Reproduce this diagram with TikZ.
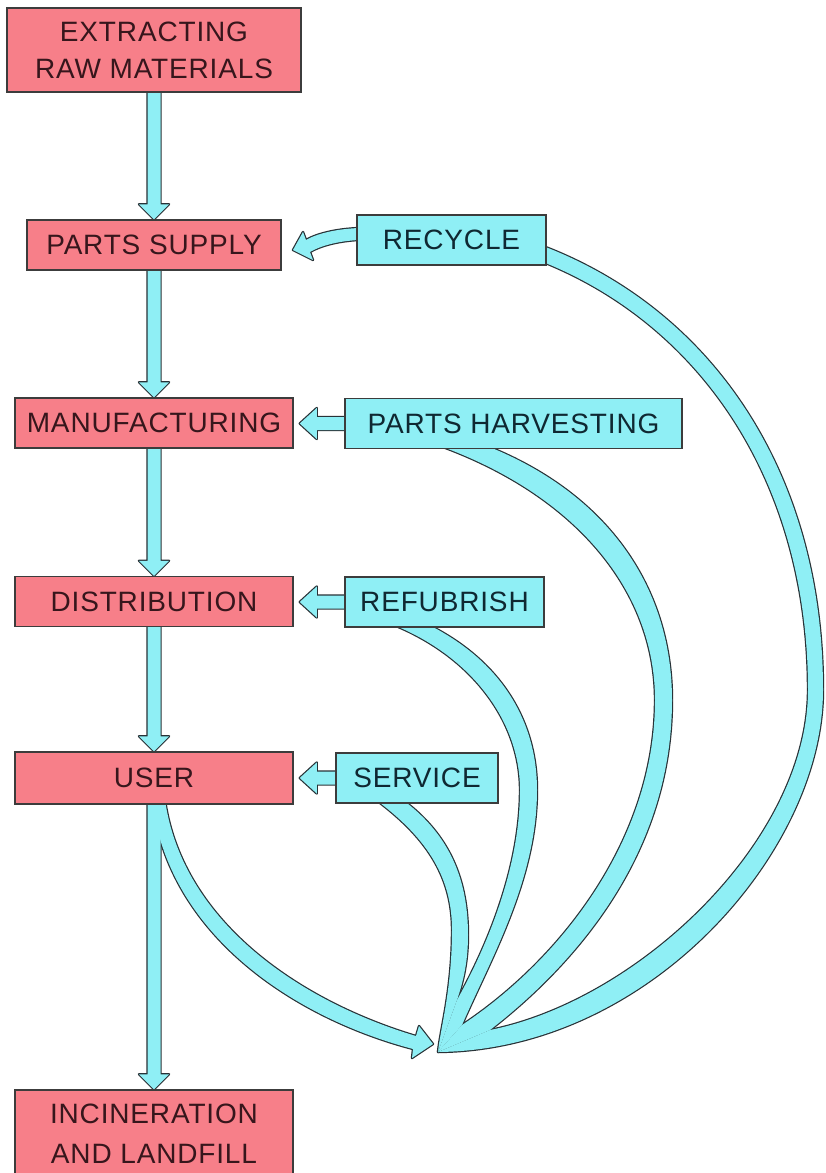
\documentclass[tikz,border=0pt]{standalone}
\usepackage{fontspec}
\newfontfamily\boxfont[LetterSpace=3]{Liberation Sans}
\usetikzlibrary{calc,backgrounds}
\definecolor{pinkc}{RGB}{247,127,137}
\definecolor{cyanc}{RGB}{143,239,245}
\definecolor{boxline}{RGB}{60,60,60}
\definecolor{flowline}{RGB}{40,50,55}
\definecolor{pinktext}{RGB}{55,22,28}
\definecolor{cyantext}{RGB}{15,40,50}
\tikzset{
  basebox/.style={draw=boxline, line width=1.5pt, inner sep=0pt, minimum height=50pt,
    align=center, font=\boxfont\fontsize{28}{37}\selectfont},
  pinkbox/.style={basebox, fill=pinkc, text=pinktext},
  cyanbox/.style={basebox, fill=cyanc, text=cyantext},
  flowstroke/.style={draw=flowline, line width=2.4pt, line join=round},
  flowfill/.style={fill=cyanc},
}
\newcommand\vflow[3]{%
  \path[#1] ($(#2.south)+(-6.5,-2)$) -- ($(#3.north)+(-6.5,-15)$) -- ($(#3.north)+(-15,-15)$)
    -- (#3.north) -- ($(#3.north)+(15,-15)$) -- ($(#3.north)+(6.5,-15)$)
    -- ($(#2.south)+(6.5,-2)$) -- cycle;}
\newcommand\hflow[3]{%
  \path[#1] ($(#2.west)+(2,-6.5)$) -- ($(#3.east |- #2.west)+(23,-6.5)$)
    -- ($(#3.east |- #2.west)+(23,-15.5)$) -- ($(#3.east |- #2.west)+(6,0)$)
    -- ($(#3.east |- #2.west)+(23,15.5)$) -- ($(#3.east |- #2.west)+(23,6.5)$)
    -- ($(#2.west)+(2,6.5)$) -- cycle;}
\newcommand\cyanshapes[1]{%
  \vflow{#1}{ext}{ps}
  \vflow{#1}{ps}{man}
  \vflow{#1}{man}{dis}
  \vflow{#1}{dis}{user}
  \vflow{#1}{user}{inc}
  \hflow{#1}{ph}{man}
  \hflow{#1}{ref}{dis}
  \hflow{#1}{ser}{user}
  % recycle -> parts supply
  \path[#1] (recS1) .. controls (335,229) and (316,234) .. (306,240) -- (303,232) -- (recT)
    -- (313,260) -- (310,252) .. controls (320,246) and (338,241) .. (recS2) -- cycle;
  % recycle band
  \path[#1] (recA) .. controls (710,310) and (823,470) .. (823,690)
    .. controls (823,850) and (650,1050) .. (conv) -- (n3)
    .. controls (640,1000) and (808,840) .. (808,690)
    .. controls (808,480) and (700,325) .. (recB) -- cycle;
  % parts harvesting band
  \path[#1] (phA) .. controls (610,495) and (672,590) .. (672,700)
    .. controls (672,850) and (580,960) .. (n3) -- (conv) -- (n2)
    .. controls (560,960) and (655,840) .. (655,700)
    .. controls (655,590) and (575,495) .. (phB) -- cycle;
  % refubrish band
  \path[#1] (refA) .. controls (500,660) and (537,720) .. (537,790)
    .. controls (537,880) and (490,960) .. (n2) -- (conv) -- (n1)
    .. controls (485,950) and (520,870) .. (520,790)
    .. controls (520,720) and (470,655) .. (refB) -- cycle;
  % service band
  \path[#1] (serA) .. controls (450,835) and (468,880) .. (468,935)
    .. controls (468,965) and (462,985) .. (n1) -- (conv)
    .. controls (440,1030) and (452,990) .. (452,930)
    .. controls (452,880) and (430,840) .. (serB) -- cycle;
  % user -> disposal point
  \path[#1] (usA) .. controls (183,925) and (305,1003) .. (416,1036) -- (419,1026) -- (usT)
    -- (412,1058) -- (413,1049) .. controls (295,1018) and (168,935) .. (usB) -- cycle;
}
\begin{document}
\begin{tikzpicture}[x=1pt,y=-1pt]
\useasboundingbox (0,0) rectangle (825,1173);
\node[pinkbox, minimum width=294pt, minimum height=84pt] (ext) at (154,50) {EXTRACTING\\RAW MATERIALS};
\node[pinkbox, minimum width=254pt] (ps) at (154,245) {PARTS SUPPLY};
\node[cyanbox, minimum width=189pt] (rec) at (451.5,240) {RECYCLE};
\node[pinkbox, minimum width=278pt] (man) at (154,423) {MANUFACTURING};
\node[cyanbox, minimum width=337pt] (ph) at (513.5,423.5) {PARTS HARVESTING};
\node[pinkbox, minimum width=278pt] (dis) at (154,601.5) {DISTRIBUTION};
\node[cyanbox, minimum width=199pt] (ref) at (444.5,602) {REFUBRISH};
\node[pinkbox, minimum width=278pt, minimum height=52pt] (user) at (154,778) {USER};
\node[cyanbox, minimum width=162pt] (ser) at (417,778) {SERVICE};
\node[pinkbox, minimum width=278pt, minimum height=88pt] (inc) at (154,1134) {INCINERATION\\[3pt]AND LANDFILL};
% named end points of the curved flows
\coordinate (conv) at (438,1052);
\coordinate (n1) at (457,1000);
\coordinate (n2) at (462,1025);
\coordinate (n3) at (490,1030);
\coordinate (recS1) at (359,228);
\coordinate (recS2) at (359,240);
\coordinate (recT) at (293,250);
\coordinate (recA) at (543,246);
\coordinate (recB) at (543,262);
\coordinate (phA) at (487,446);
\coordinate (phB) at (440,446);
\coordinate (refA) at (427,624);
\coordinate (refB) at (391,624);
\coordinate (serA) at (403,800);
\coordinate (serB) at (376,800);
\coordinate (usA) at (165,800);
\coordinate (usB) at (152,800);
\coordinate (usT) at (433,1044);
\begin{pgfonlayer}{background}
  \fill[white] (0,0) rectangle (825,1173);
  \cyanshapes{flowstroke}
  \cyanshapes{flowfill}
\end{pgfonlayer}
\end{tikzpicture}
\end{document}
